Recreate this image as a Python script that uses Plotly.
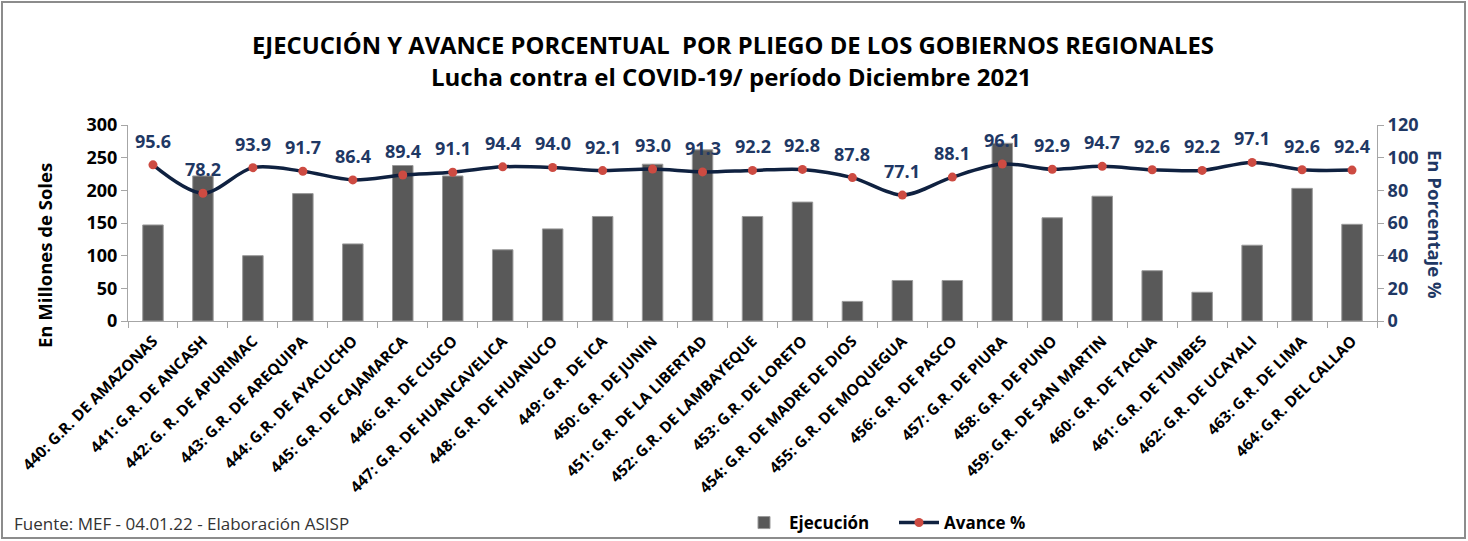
import plotly.graph_objects as go

categories = [
    "440: G.R. DE AMAZONAS", "441: G.R. DE ANCASH", "442: G. R. DE APURIMAC",
    "443: G.R. DE AREQUIPA", "444: G.R. DE AYACUCHO", "445: G.R. DE CAJAMARCA",
    "446: G.R. DE CUSCO", "447: G.R. DE HUANCAVELICA", "448: G.R. DE HUANUCO",
    "449: G.R. DE ICA", "450: G.R. DE JUNIN", "451: G.R. DE LA LIBERTAD",
    "452: G.R. DE LAMBAYEQUE", "453: G.R. DE LORETO", "454: G.R. DE MADRE DE DIOS",
    "455: G.R. DE MOQUEGUA", "456: G.R. DE PASCO", "457: G.R. DE PIURA",
    "458: G.R. DE PUNO", "459: G.R. DE SAN MARTIN", "460: G.R. DE TACNA",
    "461: G.R. DE TUMBES", "462: G.R. DE UCAYALI", "463: G.R. DE LIMA",
    "464: G.R. DEL CALLAO",
]
ejecucion = [147, 222, 100, 195, 118, 238, 222, 109, 141, 160, 240, 262, 160, 182,
             30, 62, 62, 272, 158, 191, 77, 44, 116, 203, 148]
avance = [95.6, 78.2, 93.9, 91.7, 86.4, 89.4, 91.1, 94.4, 94.0, 92.1, 93.0, 91.3,
          92.2, 92.8, 87.8, 77.1, 88.1, 96.1, 92.9, 94.7, 92.6, 92.2, 97.1, 92.6, 92.4]

title_line1 = "EJECUCIÓN Y AVANCE PORCENTUAL  POR PLIEGO DE LOS GOBIERNOS REGIONALES"
title_line2 = "Lucha contra el COVID-19/ período Diciembre 2021"
source_text = "Fuente: MEF - 04.01.22 - Elaboración ASISP"

W, H = 1468, 541
ML, MR, MT, MB = 128, 91, 125, 220
PW, PH = W - ML - MR, H - MT - MB

def px_x(px):
    return (px - ML) / PW

def px_y(py):
    return (H - MB - py) / PH

FONT = "'Open Sans', Lato, sans-serif"
NAVY = "#1f3864"
LINE = "#0f2140"
RED = "#cd4b42"

fig = go.Figure()
fig.add_trace(go.Bar(
    x=categories, y=ejecucion, name="Ejecución",
    marker=dict(color="#595959", line=dict(color="#9a9a9a", width=1)),
    yaxis="y",
))
fig.add_trace(go.Scatter(
    x=categories, y=avance, name="Avance %", yaxis="y2",
    mode="lines+markers",
    line=dict(color=LINE, width=3.5, shape="spline", smoothing=0.9),
    marker=dict(color=RED, size=9, line=dict(width=0)),
))

annotations = []
for c, v in zip(categories, avance):
    annotations.append(dict(
        x=c, y=v, xref="x", yref="y2", text=f"{v:.1f}", showarrow=False,
        yshift=24, font=dict(family=FONT, size=18, color=NAVY, weight="bold"),
    ))

annotations += [
    dict(x=px_x(733), y=px_y(45), xref="paper", yref="paper", text=f"<b>{title_line1}</b>",
         showarrow=False, xanchor="center", yanchor="middle",
         font=dict(family=FONT, size=23.8, color="#000000")),
    dict(x=px_x(731), y=px_y(76), xref="paper", yref="paper", text=f"<b>{title_line2}</b>",
         showarrow=False, xanchor="center", yanchor="middle",
         font=dict(family=FONT, size=24, color="#000000")),
    dict(x=px_x(12), y=px_y(523), xref="paper", yref="paper", text=source_text,
         showarrow=False, xanchor="left", yanchor="middle",
         font=dict(family=FONT, size=17, color="#333333")),
    dict(x=px_x(44), y=px_y(256), xref="paper", yref="paper", text="<b>En Millones de Soles</b>",
         showarrow=False, textangle=-90, xanchor="center", yanchor="middle",
         font=dict(family=FONT, size=18.5, color="#000000")),
    dict(x=px_x(1436), y=px_y(224), xref="paper", yref="paper", text="<b>En Porcentaje %</b>",
         showarrow=False, textangle=90, xanchor="center", yanchor="middle",
         font=dict(family=FONT, size=18.5, color=NAVY)),
]

fig.update_layout(
    width=W, height=H,
    margin=dict(l=ML, r=MR, t=MT, b=MB, autoexpand=False),
    paper_bgcolor="white", plot_bgcolor="white",
    font=dict(family=FONT, color="#000000"),
    bargap=0.59,
    showlegend=True,
    legend=dict(orientation="h", x=px_x(739), y=px_y(523), xanchor="left", yanchor="middle",
                font=dict(family=FONT, size=17, color="#000000", weight="bold"),
                bgcolor="rgba(0,0,0,0)", itemwidth=40, entrywidth=100,
                traceorder="normal"),
    xaxis=dict(
        type="category", range=[-0.5, len(categories) - 0.5], autorange=False,
        tickangle=-45, tickson="boundaries",
        ticks="outside", ticklen=6, tickcolor="#a6a6a6",
        showline=True, linecolor="#a6a6a6", linewidth=1,
        showgrid=False, ticklabelstandoff=4,
        tickfont=dict(family=FONT, size=15.5, color="#000000", weight="bold"),
    ),
    yaxis=dict(
        range=[0, 300], dtick=50, showgrid=False,
        showline=True, linecolor="#a6a6a6", linewidth=1,
        ticks="outside", ticklen=6, tickcolor="#a6a6a6",
        tickfont=dict(family=FONT, size=18, color="#000000", weight="bold"),
        zeroline=False,
    ),
    yaxis2=dict(
        range=[0, 120], dtick=20, overlaying="y", side="right", showgrid=False,
        showline=True, linecolor="#a6a6a6", linewidth=1,
        ticks="outside", ticklen=6, tickcolor="#a6a6a6",
        tickfont=dict(family=FONT, size=18, color=NAVY, weight="bold"),
        zeroline=False,
    ),
    annotations=annotations,
    shapes=[dict(type="rect", xref="paper", yref="paper",
                 x0=px_x(2), x1=px_x(1465), y0=px_y(538), y1=px_y(2),
                 line=dict(color="#8c8c8c", width=2), fillcolor="rgba(0,0,0,0)")],
)

fig.write_html("out.html", config={"displayModeBar": False},
               post_script="document.body.style.margin='0px';")
